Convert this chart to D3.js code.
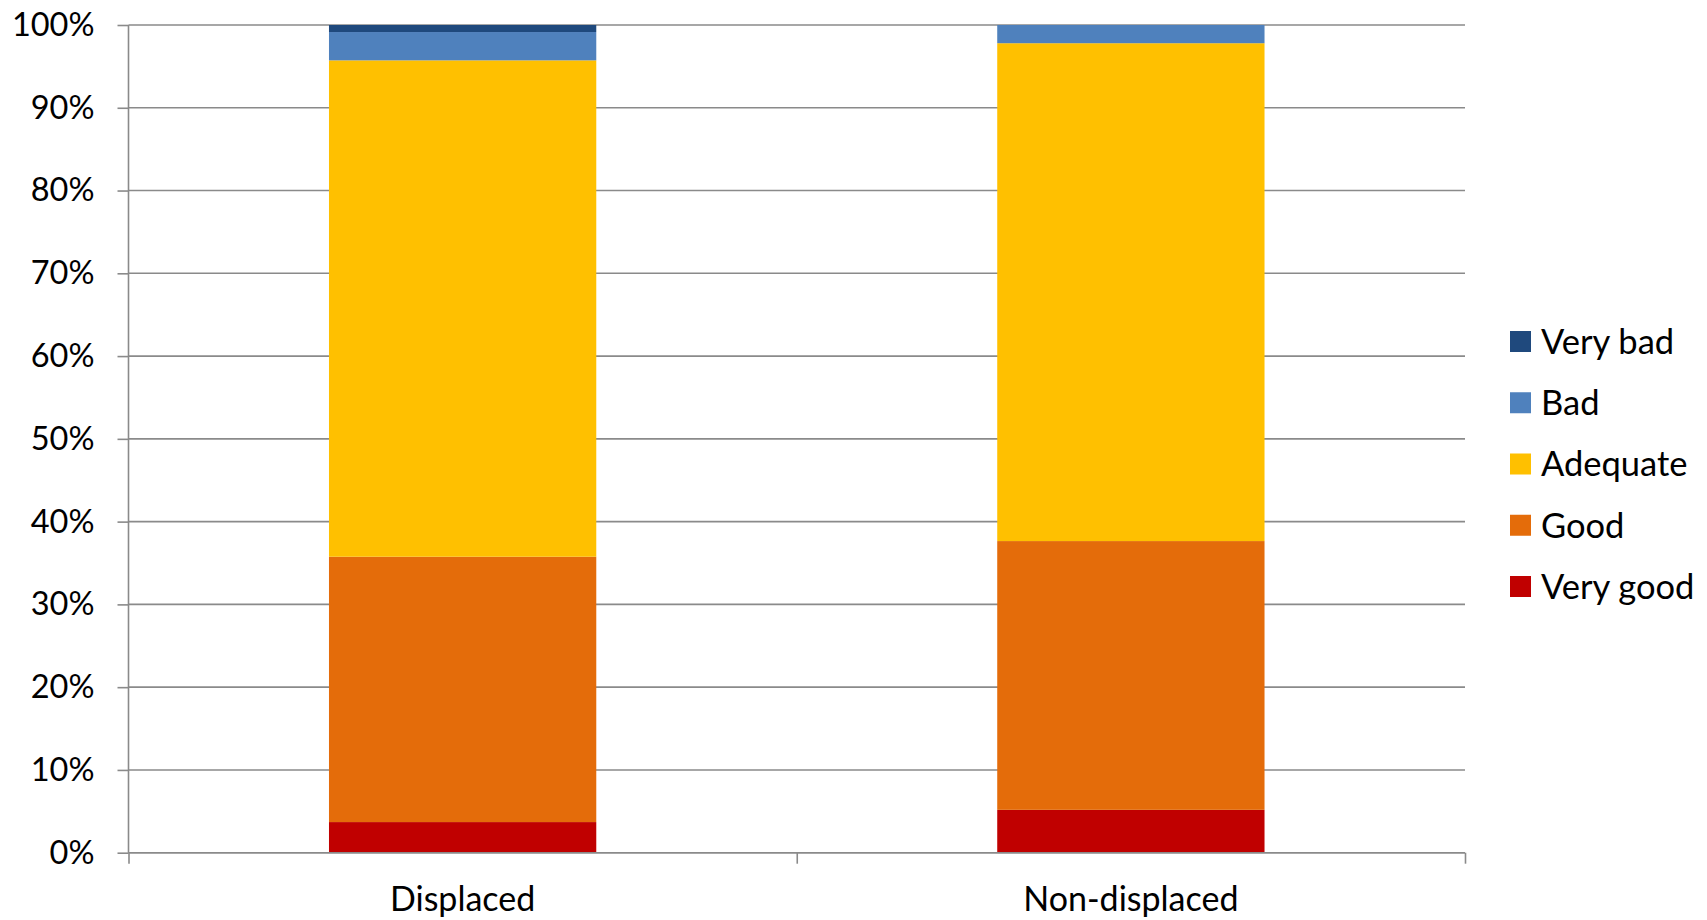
<!DOCTYPE html>
<html><head><meta charset="utf-8">
<script src="https://cdn.jsdelivr.net/npm/d3@7"></script>
<style>html,body{margin:0;padding:0;background:#fff;} svg{display:block;font-family:Lato, "Open Sans", sans-serif;}</style>
</head><body>
<svg id="chart" width="1707" height="920"></svg>
<script>
const categories = ["Displaced", "Non-displaced"];
const seriesNames = ["Very good", "Good", "Adequate", "Bad", "Very bad"];
const veryGood = [3.7, 5.18];
const good = [32.06, 32.47];
const adequate = [59.97, 60.15];
const bad = [3.42, 2.2];
const veryBad = [0.85, 0.0];
const yTicks = [0, 10, 20, 30, 40, 50, 60, 70, 80, 90, 100];
const colors = ["#C00000", "#E46C0A", "#FFC000", "#4F81BD", "#1F497D"];

const seriesValues = [veryGood, good, adequate, bad, veryBad];
const rows = categories.map((c, i) => {
  const r = {category: c};
  seriesNames.forEach((s, k) => r[s] = seriesValues[k][i]);
  return r;
});

const svg = d3.select("#chart");
const pLeft = 128.5, pRight = 1465, pTop = 25, pBottom = 852.7;
const x = d3.scaleBand().domain(categories).range([pLeft, pRight]).paddingInner(0.6).paddingOuter(0.3);
const y = d3.scaleLinear().domain([0, 100]).range([pBottom, pTop]);

// gridlines
svg.append("g").selectAll("line").data(yTicks).join("line")
  .attr("x1", pLeft).attr("x2", pRight)
  .attr("y1", d => y(d)).attr("y2", d => y(d))
  .attr("stroke", "#8a8a8a").attr("stroke-width", 1.6);

const stack = d3.stack().keys(seriesNames)(rows);
svg.append("g").selectAll("g").data(stack).join("g")
  .attr("fill", (d, i) => colors[i])
  .selectAll("rect").data(d => d).join("rect")
  .attr("x", d => x(d.data.category))
  .attr("width", x.bandwidth())
  .attr("y", d => y(d[1]))
  .attr("height", d => Math.max(0, y(d[0]) - y(d[1])));

// y axis
const yAxis = d3.axisLeft(y).tickValues(yTicks).tickFormat(d => d + "%").tickSize(11).tickPadding(23);
const gy = svg.append("g").attr("transform", `translate(${pLeft},0)`).call(yAxis);
gy.select(".domain").attr("stroke", "#8a8a8a").attr("stroke-width", 1.6).attr("d", `M0,${pTop}V${pBottom}`);
gy.selectAll(".tick line").attr("stroke", "#8a8a8a").attr("stroke-width", 1.6);
gy.selectAll("text").attr("font-size", 32.5).attr("fill", "#000").attr("font-family", "Lato");

// x axis
const xb = d3.scaleLinear().domain([0, categories.length]).range([pLeft, pRight]);
const gx = svg.append("g").attr("transform", `translate(0,${pBottom})`)
  .call(d3.axisBottom(xb).tickValues(d3.range(categories.length + 1)).tickSize(11).tickFormat(""));
gx.select(".domain").attr("stroke", "#8a8a8a").attr("stroke-width", 1.6).attr("d", `M${pLeft},0H${pRight}`);
gx.selectAll(".tick line").attr("stroke", "#8a8a8a").attr("stroke-width", 1.6);
svg.append("g").selectAll("text").data(categories).join("text")
  .attr("x", d => x(d) + x.bandwidth() / 2)
  .attr("y", pBottom + 58)
  .attr("text-anchor", "middle")
  .attr("font-size", 34).attr("fill", "#000")
  .text(d => d);

// legend (top to bottom: Very bad ... Very good)
const legendOrder = seriesNames.map((s, i) => ({name: s, color: colors[i]})).reverse();
const lg = svg.append("g").selectAll("g").data(legendOrder).join("g")
  .attr("transform", (d, i) => `translate(1510,${341.5 + i * 61.25})`);
lg.append("rect").attr("x", 0).attr("y", -10.5).attr("width", 21).attr("height", 21).attr("fill", d => d.color);
lg.append("text").attr("x", 31).attr("y", 0).attr("dy", "0.36em")
  .attr("font-size", 34.5).attr("fill", "#000").text(d => d.name);
</script>
</body></html>
